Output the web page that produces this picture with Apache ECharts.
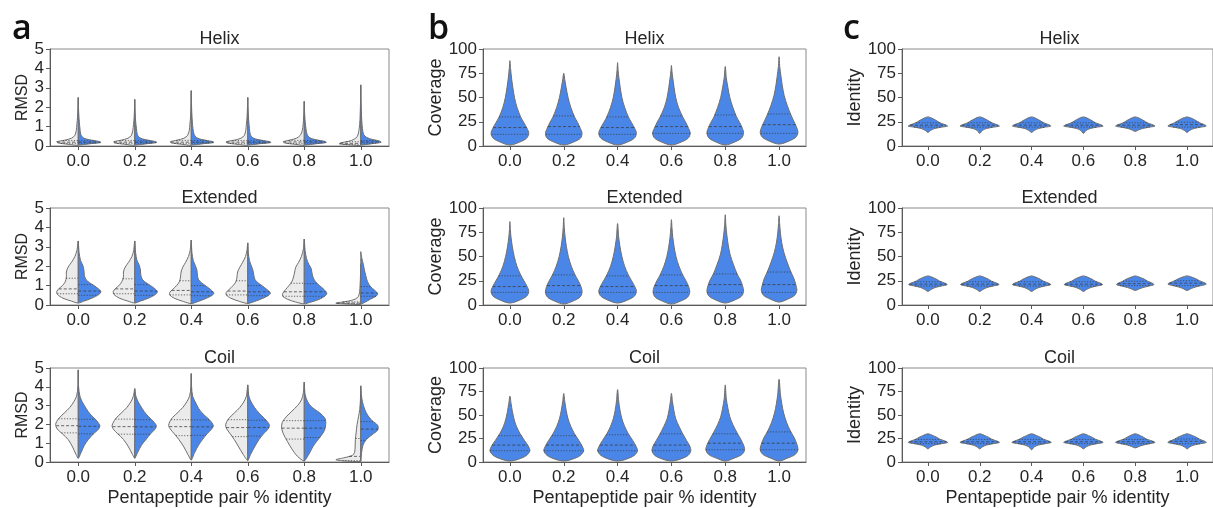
<!DOCTYPE html>
<html><head><meta charset="utf-8">
<script src="https://cdn.jsdelivr.net/npm/echarts@6/dist/echarts.min.js"></script>
<style>html,body{margin:0;padding:0;background:#fff}#chart{width:1213px;height:508px}</style>
</head><body><div id="chart"></div>
<script>
// ---------- categories / labels ----------
const categories = ['0.0','0.2','0.4','0.6','0.8','1.0'];
const rowTitles = ['Helix','Extended','Coil'];
const panelLetters = ['a','b','c'];
const yNames = ['RMSD','Coverage','Identity'];
const xName = 'Pentapeptide pair % identity';
const rmsdRange = [0, 5, 1];
const pctRange = [0, 100, 25];

// ---------- panel a: RMSD, split violins: [value, half-width as fraction of band] ----------
const aHelixGrey = [
  [[0.03,0],[0.09,0.18],[0.16,0.36],[0.22,0.38],[0.3,0.24],[0.4,0.12],[0.55,0.06],[0.8,0.035],[1.1,0.025],[1.5,0.012],[2.0,0.005],[2.5,0]],
  [[0.03,0],[0.09,0.18],[0.16,0.36],[0.22,0.37],[0.3,0.24],[0.4,0.12],[0.55,0.06],[0.8,0.035],[1.1,0.022],[1.5,0.01],[2.0,0.004],[2.4,0]],
  [[0.03,0],[0.09,0.17],[0.16,0.35],[0.22,0.37],[0.3,0.25],[0.4,0.13],[0.55,0.065],[0.8,0.035],[1.1,0.025],[1.5,0.012],[2.1,0.005],[2.85,0]],
  [[0.03,0],[0.09,0.19],[0.16,0.37],[0.22,0.38],[0.3,0.24],[0.4,0.12],[0.55,0.06],[0.8,0.035],[1.1,0.025],[1.5,0.012],[2.0,0.005],[2.5,0]],
  [[0.03,0],[0.09,0.17],[0.16,0.35],[0.22,0.37],[0.3,0.26],[0.4,0.14],[0.55,0.07],[0.8,0.035],[1.1,0.02],[1.5,0.01],[1.9,0.004],[2.3,0]],
  [[0.02,0],[0.06,0.2],[0.11,0.38],[0.16,0.36],[0.24,0.22],[0.34,0.12],[0.5,0.06],[0.75,0.035],[1.1,0.02],[1.6,0.01],[2.3,0.004],[3.15,0]]
];
const aHelixBlue = [
  [[0.05,0],[0.12,0.22],[0.18,0.4],[0.24,0.36],[0.32,0.2],[0.42,0.09],[0.6,0.045],[0.9,0.03],[1.2,0.02],[1.6,0.01],[2.0,0.004],[2.5,0]],
  [[0.05,0],[0.12,0.22],[0.18,0.39],[0.24,0.35],[0.32,0.2],[0.42,0.09],[0.6,0.045],[0.9,0.03],[1.2,0.018],[1.6,0.008],[2.0,0.003],[2.4,0]],
  [[0.05,0],[0.12,0.22],[0.18,0.4],[0.24,0.36],[0.32,0.21],[0.42,0.1],[0.6,0.05],[0.9,0.03],[1.2,0.02],[1.7,0.01],[2.2,0.004],[2.85,0]],
  [[0.05,0],[0.12,0.22],[0.18,0.41],[0.24,0.36],[0.32,0.2],[0.42,0.09],[0.6,0.045],[0.9,0.03],[1.2,0.02],[1.6,0.01],[2.0,0.004],[2.5,0]],
  [[0.05,0],[0.12,0.22],[0.18,0.39],[0.24,0.36],[0.32,0.21],[0.42,0.1],[0.6,0.05],[0.9,0.03],[1.2,0.018],[1.6,0.008],[1.9,0.003],[2.3,0]],
  [[0.05,0],[0.12,0.2],[0.19,0.36],[0.26,0.33],[0.34,0.2],[0.45,0.1],[0.6,0.05],[0.9,0.03],[1.3,0.018],[1.8,0.01],[2.4,0.004],[3.15,0]]
];
const aHelixGreyQ = [[0.14,0.2,0.28],[0.14,0.2,0.28],[0.14,0.2,0.29],[0.14,0.2,0.28],[0.14,0.21,0.29],[0.09,0.14,0.22]];
const aHelixBlueQ = [[0.15,0.2,0.27],[0.15,0.2,0.27],[0.15,0.2,0.28],[0.15,0.2,0.27],[0.15,0.21,0.28],[0.15,0.21,0.28]];

const aExtGrey = [
  [[0.1,0],[0.2,0.12],[0.35,0.27],[0.55,0.37],[0.7,0.38],[0.85,0.34],[1.0,0.28],[1.2,0.23],[1.45,0.21],[1.7,0.21],[1.95,0.18],[2.2,0.12],[2.5,0.06],[2.8,0.025],[3.3,0]],
  [[0.1,0],[0.2,0.12],[0.35,0.27],[0.55,0.37],[0.7,0.38],[0.85,0.34],[1.0,0.28],[1.2,0.23],[1.45,0.2],[1.7,0.2],[1.95,0.17],[2.2,0.11],[2.5,0.05],[2.8,0.02],[3.3,0]],
  [[0.07,0],[0.18,0.14],[0.35,0.3],[0.52,0.38],[0.65,0.38],[0.8,0.33],[1.0,0.26],[1.2,0.21],[1.45,0.19],[1.7,0.18],[1.95,0.15],[2.2,0.1],[2.5,0.05],[2.8,0.02],[3.35,0]],
  [[0.08,0],[0.18,0.14],[0.35,0.3],[0.52,0.38],[0.65,0.38],[0.8,0.33],[1.0,0.26],[1.2,0.21],[1.45,0.19],[1.7,0.18],[1.95,0.14],[2.2,0.09],[2.5,0.04],[2.8,0.015],[3.2,0]],
  [[0.06,0],[0.15,0.15],[0.3,0.3],[0.45,0.38],[0.6,0.38],[0.8,0.33],[1.0,0.27],[1.2,0.22],[1.45,0.19],[1.7,0.17],[1.95,0.15],[2.2,0.1],[2.5,0.05],[2.9,0.015],[3.4,0]],
  [[0.02,0],[0.05,0.22],[0.09,0.44],[0.14,0.36],[0.2,0.22],[0.3,0.1],[0.45,0.04],[0.7,0.02],[1.0,0.012],[1.4,0.006],[1.8,0.003],[2.1,0]]
];
const aExtBlue = [
  [[0.1,0],[0.2,0.1],[0.35,0.24],[0.55,0.37],[0.7,0.4],[0.85,0.35],[1.0,0.28],[1.15,0.2],[1.3,0.14],[1.5,0.11],[1.8,0.1],[2.05,0.08],[2.3,0.04],[2.7,0.015],[3.3,0]],
  [[0.1,0],[0.2,0.1],[0.35,0.24],[0.55,0.37],[0.7,0.4],[0.85,0.35],[1.0,0.28],[1.15,0.2],[1.3,0.14],[1.5,0.11],[1.8,0.1],[2.05,0.08],[2.3,0.04],[2.7,0.015],[3.3,0]],
  [[0.07,0],[0.18,0.12],[0.35,0.27],[0.5,0.37],[0.62,0.4],[0.8,0.34],[1.0,0.25],[1.15,0.18],[1.3,0.13],[1.5,0.11],[1.8,0.1],[2.05,0.07],[2.3,0.035],[2.7,0.012],[3.35,0]],
  [[0.08,0],[0.18,0.12],[0.35,0.27],[0.5,0.37],[0.62,0.4],[0.8,0.34],[1.0,0.25],[1.15,0.18],[1.3,0.13],[1.5,0.11],[1.8,0.09],[2.05,0.06],[2.3,0.03],[2.7,0.01],[3.2,0]],
  [[0.06,0],[0.15,0.12],[0.3,0.27],[0.45,0.36],[0.6,0.4],[0.8,0.35],[1.0,0.27],[1.2,0.2],[1.4,0.16],[1.6,0.14],[1.9,0.12],[2.1,0.08],[2.4,0.04],[2.8,0.015],[3.4,0]],
  [[0.05,0],[0.15,0.08],[0.3,0.17],[0.45,0.27],[0.58,0.3],[0.75,0.25],[0.95,0.17],[1.2,0.12],[1.5,0.09],[1.8,0.065],[2.1,0.045],[2.4,0.02],[2.75,0]]
];
const aExtGreyQ = [[0.58,0.83,1.38],[0.58,0.83,1.35],[0.52,0.75,1.25],[0.52,0.72,1.25],[0.45,0.68,1.12],[0.06,0.1,0.16]];
const aExtBlueQ = [[0.5,0.72,1.05],[0.5,0.72,1.05],[0.48,0.68,1.0],[0.48,0.68,1.0],[0.45,0.68,1.1],[0.45,0.62,0.95]];

const aCoilGrey = [
  [[0.2,0],[0.4,0.04],[0.8,0.1],[1.2,0.18],[1.5,0.28],[1.75,0.37],[2.0,0.4],[2.3,0.35],[2.6,0.25],[2.9,0.15],[3.2,0.08],[3.5,0.03],[4.0,0.006],[4.9,0]],
  [[0.2,0],[0.4,0.04],[0.8,0.11],[1.2,0.2],[1.5,0.3],[1.75,0.38],[1.95,0.4],[2.3,0.34],[2.6,0.24],[2.9,0.14],[3.2,0.07],[3.5,0.025],[3.9,0]],
  [[0.1,0],[0.4,0.06],[0.8,0.13],[1.2,0.22],[1.5,0.3],[1.75,0.37],[1.95,0.4],[2.3,0.35],[2.6,0.25],[2.9,0.15],[3.2,0.08],[3.5,0.03],[4.0,0.006],[4.7,0]],
  [[0.08,0],[0.4,0.08],[0.8,0.16],[1.2,0.24],[1.5,0.31],[1.8,0.38],[2.0,0.39],[2.3,0.34],[2.6,0.24],[2.9,0.14],[3.2,0.07],[3.5,0.025],[4.1,0]],
  [[0.05,0],[0.3,0.12],[0.7,0.22],[1.1,0.3],[1.5,0.37],[1.8,0.4],[2.1,0.39],[2.4,0.32],[2.7,0.22],[3.0,0.12],[3.3,0.05],[3.7,0.015],[4.25,0]],
  [[0.02,0],[0.06,0.3],[0.12,0.44],[0.22,0.3],[0.35,0.15],[0.5,0.11],[0.8,0.1],[1.2,0.095],[1.6,0.08],[2.0,0.065],[2.4,0.04],[2.8,0.018],[3.3,0.006],[4.05,0]]
];
const aCoilBlue = [
  [[0.2,0],[0.5,0.05],[0.9,0.11],[1.2,0.18],[1.5,0.27],[1.75,0.36],[1.95,0.38],[2.25,0.31],[2.55,0.21],[2.85,0.14],[3.2,0.07],[3.5,0.03],[4.0,0.006],[4.9,0]],
  [[0.2,0],[0.5,0.05],[0.9,0.12],[1.2,0.2],[1.5,0.28],[1.75,0.36],[1.95,0.38],[2.25,0.3],[2.55,0.2],[2.85,0.13],[3.2,0.06],[3.5,0.02],[3.9,0]],
  [[0.1,0],[0.5,0.06],[0.9,0.13],[1.2,0.2],[1.5,0.28],[1.75,0.36],[1.95,0.39],[2.25,0.32],[2.55,0.21],[2.85,0.13],[3.2,0.07],[3.5,0.025],[4.0,0.006],[4.7,0]],
  [[0.08,0],[0.4,0.05],[0.8,0.12],[1.2,0.2],[1.5,0.28],[1.8,0.37],[2.0,0.38],[2.3,0.3],[2.6,0.2],[2.9,0.12],[3.2,0.06],[3.5,0.02],[4.1,0]],
  [[0.05,0],[0.4,0.08],[0.8,0.15],[1.1,0.22],[1.4,0.3],[1.7,0.36],[2.0,0.38],[2.3,0.37],[2.6,0.28],[2.9,0.14],[3.2,0.06],[3.6,0.015],[4.25,0]],
  [[0.05,0],[0.5,0.015],[0.9,0.04],[1.2,0.1],[1.45,0.2],[1.7,0.3],[1.95,0.3],[2.2,0.2],[2.5,0.12],[2.8,0.07],[3.2,0.03],[3.6,0.01],[4.05,0]]
];
const aCoilGreyQ = [[1.55,1.93,2.3],[1.48,1.88,2.28],[1.4,1.88,2.25],[1.35,1.83,2.25],[1.22,1.8,2.2],[0.07,0.3,1.25]];
const aCoilBlueQ = [[1.5,1.9,2.27],[1.48,1.87,2.25],[1.42,1.87,2.24],[1.38,1.84,2.22],[1.3,1.8,2.2],[1.15,1.75,2.15]];

// ---------- panel b: Coverage ----------
const bHelix = [
  [[1,0],[4,0.18],[8,0.31],[13,0.35],[18,0.32],[24,0.26],[30,0.2],[40,0.13],[50,0.085],[60,0.055],[70,0.03],[80,0.012],[88,0]],
  [[1,0],[4,0.18],[8,0.31],[13,0.34],[18,0.31],[24,0.26],[30,0.2],[40,0.13],[50,0.08],[60,0.045],[68,0.02],[75,0]],
  [[1,0],[4,0.18],[8,0.31],[13,0.35],[18,0.32],[24,0.26],[30,0.2],[40,0.13],[50,0.08],[60,0.05],[70,0.025],[78,0.01],[86,0]],
  [[1,0],[4,0.18],[8,0.31],[13,0.35],[18,0.32],[24,0.27],[30,0.21],[40,0.13],[50,0.08],[60,0.05],[70,0.025],[77,0.01],[83,0]],
  [[1,0],[4,0.17],[8,0.3],[13,0.34],[18,0.32],[24,0.27],[30,0.21],[40,0.14],[50,0.085],[60,0.05],[70,0.02],[82,0]],
  [[2,0],[5,0.18],[9,0.31],[14,0.35],[20,0.32],[26,0.27],[32,0.22],[42,0.15],[52,0.095],[62,0.06],[72,0.035],[82,0.012],[92,0]]
];
const bHelixQ = [[12,19,30],[12,20,31],[12,19,30],[13,20,31],[13,20,32],[13,22,33]];
const bExt = [
  [[2,0],[5,0.18],[9,0.31],[14,0.35],[19,0.32],[25,0.26],[31,0.2],[40,0.13],[50,0.08],[60,0.045],[70,0.02],[78,0.008],[86,0]],
  [[1,0],[4,0.17],[8,0.3],[13,0.34],[19,0.32],[25,0.27],[31,0.21],[40,0.14],[50,0.085],[60,0.05],[70,0.025],[80,0.01],[90,0]],
  [[2,0],[5,0.18],[9,0.31],[14,0.35],[19,0.32],[25,0.26],[31,0.2],[40,0.13],[50,0.08],[60,0.045],[70,0.02],[84,0]],
  [[1,0],[4,0.17],[8,0.3],[13,0.34],[19,0.32],[25,0.27],[31,0.21],[40,0.14],[50,0.085],[60,0.05],[70,0.025],[80,0.01],[88,0]],
  [[2,0],[5,0.17],[9,0.3],[14,0.34],[20,0.32],[26,0.28],[32,0.22],[42,0.15],[52,0.09],[62,0.055],[72,0.03],[82,0.012],[93,0]],
  [[3,0],[6,0.16],[10,0.29],[15,0.33],[21,0.31],[28,0.27],[34,0.22],[44,0.15],[54,0.09],[64,0.05],[74,0.025],[84,0.01],[92,0]]
];
const bExtQ = [[13,19,30],[13,20,31],[13,19,30],[13,20,31],[13,21,32],[13,21,34]];
const bCoil = [
  [[1,0],[3,0.16],[7,0.31],[12,0.37],[17,0.34],[23,0.27],[30,0.19],[38,0.12],[46,0.075],[54,0.045],[62,0.022],[70,0]],
  [[1,0],[3,0.16],[7,0.31],[12,0.37],[17,0.34],[23,0.28],[30,0.2],[38,0.13],[46,0.08],[55,0.045],[64,0.02],[73,0]],
  [[1,0],[3,0.16],[7,0.31],[12,0.37],[17,0.34],[23,0.28],[30,0.2],[38,0.13],[46,0.08],[55,0.045],[65,0.02],[77,0]],
  [[1,0],[3,0.16],[7,0.31],[12,0.36],[17,0.34],[23,0.28],[30,0.21],[38,0.14],[46,0.08],[55,0.045],[64,0.02],[73,0]],
  [[1,0],[4,0.16],[8,0.31],[13,0.36],[18,0.34],[24,0.29],[31,0.22],[40,0.14],[48,0.085],[57,0.05],[67,0.02],[82,0]],
  [[1,0],[4,0.15],[8,0.3],[13,0.35],[19,0.33],[26,0.28],[33,0.21],[42,0.14],[52,0.085],[62,0.05],[72,0.025],[88,0]]
];
const bCoilQ = [[12,18,28],[12,18,28],[12,18,29],[12,18,30],[13,20,30],[13,20,32]];

// ---------- panel c: Identity ----------
const cHelix = [
  [[14,0],[16,0.05],[18,0.13],[19.5,0.27],[20.5,0.38],[22,0.33],[24,0.23],[26,0.17],[28,0.1],[29.3,0.05],[30,0]],
  [[13,0],[16,0.05],[18,0.13],[19.5,0.27],[20.5,0.38],[22,0.33],[24,0.23],[26,0.17],[28,0.1],[29.3,0.05],[30,0]],
  [[14,0],[16,0.05],[18,0.13],[19.5,0.27],[20.5,0.37],[22,0.33],[24,0.23],[26,0.17],[28,0.1],[29.3,0.05],[30,0]],
  [[13,0],[16,0.05],[18,0.13],[19.5,0.27],[20.5,0.38],[22,0.33],[24,0.23],[26,0.17],[28,0.1],[29.3,0.05],[30,0]],
  [[15,0],[16.5,0.06],[18,0.14],[19.5,0.28],[20.5,0.38],[22,0.33],[24,0.23],[26,0.17],[28,0.1],[29.3,0.05],[30,0]],
  [[14,0],[16,0.05],[18,0.13],[19.5,0.27],[20.5,0.37],[22,0.33],[24,0.24],[26,0.18],[28,0.11],[29.3,0.05],[30,0]]
];
const cExt = [
  [[14,0],[16,0.06],[18,0.14],[19.5,0.25],[21,0.37],[22.5,0.33],[24.5,0.23],[26.5,0.17],[28,0.11],[29.3,0.05],[30,0]],
  [[14,0],[16,0.06],[18,0.14],[19.5,0.25],[21,0.37],[22.5,0.33],[24.5,0.23],[26.5,0.17],[28,0.11],[29.3,0.05],[30,0]],
  [[14,0],[16,0.06],[18,0.14],[19.5,0.25],[21,0.37],[22.5,0.33],[24.5,0.23],[26.5,0.17],[28,0.11],[29.3,0.05],[30,0]],
  [[14,0],[16,0.06],[18,0.14],[19.5,0.25],[21,0.37],[22.5,0.33],[24.5,0.23],[26.5,0.17],[28,0.11],[29.3,0.05],[30,0]],
  [[15,0],[16.5,0.07],[18,0.15],[19.5,0.26],[21,0.36],[22.5,0.33],[24.5,0.24],[26.5,0.18],[28,0.11],[29.3,0.05],[30,0]],
  [[15,0],[17,0.08],[18.5,0.16],[20,0.27],[21.5,0.37],[23,0.33],[25,0.24],[27,0.17],[28.5,0.1],[29.5,0.05],[30,0]]
];
const cCoil = [
  [[14,0],[16,0.05],[18,0.13],[19.5,0.26],[20.8,0.38],[22.3,0.33],[24.3,0.23],[26.3,0.17],[28,0.1],[29.3,0.05],[30,0]],
  [[14,0],[16,0.05],[18,0.13],[19.5,0.26],[20.8,0.38],[22.3,0.33],[24.3,0.23],[26.3,0.17],[28,0.1],[29.3,0.05],[30,0]],
  [[13,0],[16,0.05],[18,0.13],[19.5,0.26],[20.8,0.38],[22.3,0.33],[24.3,0.23],[26.3,0.17],[28,0.1],[29.3,0.05],[30,0]],
  [[14,0],[16,0.05],[18,0.13],[19.5,0.26],[20.8,0.38],[22.3,0.33],[24.3,0.23],[26.3,0.17],[28,0.1],[29.3,0.05],[30,0]],
  [[15,0],[16.5,0.07],[18,0.15],[19.5,0.28],[20.8,0.38],[22.3,0.33],[24.3,0.22],[26.3,0.16],[28,0.1],[29.3,0.05],[30,0]],
  [[14,0],[16,0.05],[18,0.13],[19.5,0.26],[20.8,0.37],[22.3,0.33],[24.3,0.24],[26.3,0.18],[28,0.11],[29.3,0.05],[30,0]]
];
const cHelixQ = [[19.5,21.5,24],[19.5,21.5,24],[19.5,21.5,24],[19.5,21.5,24],[19.5,21.5,24],[19.5,22,24.5]];
const cExtQ   = [[19.5,21.5,24],[19.5,21.5,24],[19.5,21.5,24],[19.5,21.5,24],[20,22,24.5],[20,22.5,25]];
const cCoilQ  = [[19.5,21.5,24],[19.5,21.5,24],[19.5,21.5,24],[19.5,21.5,24],[19.5,21.5,24],[19.5,22,24.5]];

// ---------- styling / layout ----------
const FONT = '"Liberation Sans", Arial, Helvetica, sans-serif';
const BLUE = '#4a86e8', GREY = '#ebebeb', EDGE = '#6e6e6e', AXIS = '#5a5a5a', TXT = '#262626';
const COLS = [
  {left: 50, width: 339, range: rmsdRange, nameSize: 16, nameGap: 19, letterX: 12},
  {left: 483, width: 323, range: pctRange, nameSize: 18, nameGap: 36, letterX: 428},
  {left: 902, width: 317, range: pctRange, nameSize: 18, nameGap: 38, letterX: 843}
];
const ROW_TOPS = [49, 208, 368];
const ROW_H = 97;

const panels = [
  {col:0,row:0,split:true,L:aHelixGrey,R:aHelixBlue,qL:aHelixGreyQ,qR:aHelixBlueQ},
  {col:0,row:1,split:true,L:aExtGrey,R:aExtBlue,qL:aExtGreyQ,qR:aExtBlueQ},
  {col:0,row:2,split:true,L:aCoilGrey,R:aCoilBlue,qL:aCoilGreyQ,qR:aCoilBlueQ},
  {col:1,row:0,split:false,P:bHelix,q:bHelixQ},
  {col:1,row:1,split:false,P:bExt,q:bExtQ},
  {col:1,row:2,split:false,P:bCoil,q:bCoilQ},
  {col:2,row:0,split:false,P:cHelix,q:cHelixQ},
  {col:2,row:1,split:false,P:cExt,q:cExtQ},
  {col:2,row:2,split:false,P:cCoil,q:cCoilQ}
];

function widthAt(prof, v) {
  for (let k = 0; k < prof.length - 1; k++) {
    const a = prof[k], b = prof[k + 1];
    if (v >= a[0] && v <= b[0]) return a[1] + (b[1] - a[1]) * (v - a[0]) / (b[0] - a[0]);
  }
  return 0;
}

function violinSeries(gi, profiles, quarts, side, fill) {
  return {
    type: 'custom', coordinateSystem: 'cartesian2d', xAxisIndex: gi, yAxisIndex: gi,
    data: categories.map((c, i) => [i, 0]), encode: {x: 0, y: 1},
    silent: true, animation: false, clip: false,
    renderItem: function (params, api) {
      const i = api.value(0);
      const prof = profiles[i];
      const cx = api.coord([i, 0])[0];
      const band = api.size([1, 0])[0];
      const Y = v => api.coord([i, v])[1];
      const pts = [];
      if (side === 'both') {
        for (const p of prof) pts.push([cx + p[1] * band, Y(p[0])]);
        for (let k = prof.length - 2; k >= 1; k--) pts.push([cx - prof[k][1] * band, Y(prof[k][0])]);
      } else {
        const s = side === 'left' ? -1 : 1;
        for (const p of prof) pts.push([cx + s * p[1] * band, Y(p[0])]);
        for (let k = prof.length - 2; k >= 1; k--) pts.push([cx, Y(prof[k][0])]);
      }
      const children = [{type: 'polygon', shape: {points: pts, smooth: 0.3},
        style: {fill: fill, stroke: EDGE, lineWidth: 1}}];
      quarts[i].forEach((q, j) => {
        const w = widthAt(prof, q) * band;
        const x1 = side === 'right' ? cx : cx - w;
        const x2 = side === 'left' ? cx : cx + w;
        children.push({type: 'line', shape: {x1: x1, y1: Y(q), x2: x2, y2: Y(q)},
          style: {stroke: '#3a3a3a', lineWidth: 1, opacity: 0.75, lineDash: j === 1 ? [3, 2] : [1.2, 1.6]}});
      });
      return {type: 'group', children: children};
    }
  };
}

const grid = [], xAxis = [], yAxis = [], series = [], graphic = [];
panels.forEach((p, gi) => {
  const C = COLS[p.col], top = ROW_TOPS[p.row];
  grid.push({left: C.left, top: top, width: C.width, height: ROW_H, show: true,
    borderColor: '#8a8a8a', borderWidth: 1, backgroundColor: 'transparent', containLabel: false});
  xAxis.push({gridIndex: gi, type: 'category', data: categories, boundaryGap: true,
    axisLine: {show: true, lineStyle: {color: AXIS, width: 1}},
    axisTick: {show: true, alignWithLabel: true, length: 4, lineStyle: {color: AXIS}},
    axisLabel: {fontSize: 17, color: TXT, fontFamily: FONT, margin: 7},
    splitLine: {show: false},
    name: p.row === 2 ? xName : '', nameLocation: 'middle', nameGap: 27,
    nameTextStyle: {fontSize: 18, color: TXT, fontFamily: FONT}});
  yAxis.push({gridIndex: gi, type: 'value', min: C.range[0], max: C.range[1], interval: C.range[2],
    axisLine: {show: true, lineStyle: {color: AXIS, width: 1}},
    axisTick: {show: true, length: 4, lineStyle: {color: AXIS}},
    axisLabel: {fontSize: 17, color: TXT, fontFamily: FONT, margin: 6},
    splitLine: {show: false},
    name: yNames[p.col], nameLocation: 'middle', nameGap: C.nameGap,
    nameTextStyle: {fontSize: C.nameSize, color: TXT, fontFamily: FONT}});
  if (p.split) {
    series.push(violinSeries(gi, p.L, p.qL, 'left', GREY));
    series.push(violinSeries(gi, p.R, p.qR, 'right', BLUE));
  } else {
    series.push(violinSeries(gi, p.P, p.q, 'both', BLUE));
  }
  graphic.push({type: 'text', x: C.left + C.width / 2 + (p.col === 2 ? -1 : 0), y: top - 9.5,
    style: {text: rowTitles[p.row], font: '18px ' + FONT, fill: TXT, textAlign: 'center', textVerticalAlign: 'middle'}});
});
COLS.forEach((C, k) => {
  graphic.push({type: 'text', x: C.letterX, y: 29,
    style: {text: panelLetters[k], font: '600 34px "Open Sans", ' + FONT, fill: '#111', textAlign: 'left', textVerticalAlign: 'middle'}});
});

const chart = echarts.init(document.getElementById('chart'), null, {renderer: 'canvas'});
chart.setOption({animation: false, backgroundColor: '#fff', grid, xAxis, yAxis, series, graphic});
</script></body></html>
